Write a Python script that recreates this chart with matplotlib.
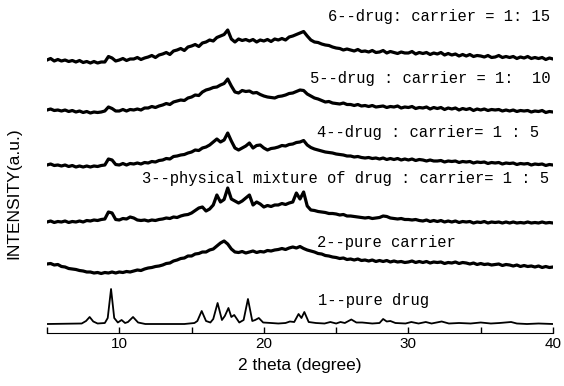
import numpy as np
from matplotlib import pyplot as plt
from matplotlib.ticker import MultipleLocator

# 2theta grid for the noisy patterns (5-40 deg, step 0.25)
two_theta = np.arange(0, 141) * 0.25 + 5

# intensity above each pattern's own baseline (a.u.)
carrier_1_15 = [3, 4.5, 2, 3.5, 2, 3, 1.5, 2.5, 1, 2.5, 0.5, 1.5, 0, 1.5, 0, 1,
                1, 6.5, 5, 2, 3, 4.5, 2.5, 4, 4, 5.5, 3.5, 5, 6, 7.5, 5.5, 8,
                9, 10.5, 8.5, 12, 13, 14.5, 12.5, 16, 17, 18.5, 16.5, 20, 21, 23, 22, 25.5,
                27, 28.5, 33, 24, 21, 24, 22.5, 23.5, 22, 23.5, 21, 23, 22, 23.5, 21.5, 24,
                23, 24.5, 23, 26, 27, 28.5, 30, 31.5, 27, 23, 21, 20.5, 19, 18, 17.5, 16,
                15, 14.5, 13, 14, 13, 12, 13.5, 11.5, 12, 11, 12.5, 10.5, 11, 12.5, 10, 11.5,
                10.5, 9.5, 11, 10, 10, 11.5, 9, 10.5, 9.5, 10.5, 8.5, 10, 9, 10.5, 8, 9.5,
                8, 9, 7, 8.5, 7, 8.5, 6.5, 7.5, 7, 6, 7.5, 5.5, 6, 7.5, 5.5, 6.5,
                5.5, 6.5, 4.5, 6, 5, 6.5, 4.5, 5.5, 4.5, 5.5, 3.5, 5, 4]

carrier_1_10 = [3, 4, 2.5, 3, 2, 3, 1.5, 2.5, 1, 2, 0.5, 1.5, 0, 1, 0.5, 1,
                2, 6, 4.5, 2, 2, 3.5, 2, 3.5, 3, 4, 3, 5, 5, 6.5, 5.5, 7,
                8, 9.5, 8.5, 11, 12, 13, 12.5, 15, 16, 18, 17.5, 21, 23, 24, 25.5, 26,
                28, 29.5, 34, 27, 21, 20, 22.5, 21.5, 22, 20, 20.5, 18.5, 17, 16, 15.5, 15,
                16.5, 17, 18, 19.5, 20, 21.5, 23, 22.5, 19, 17, 15, 14, 12.5, 11, 11.5, 10,
                9.5, 9, 10, 8.5, 8.5, 7.5, 8.5, 7, 7.5, 6.5, 7.5, 6, 6.5, 7, 5.5, 6.5,
                6, 7, 5, 6, 5.5, 6.5, 4.5, 5.5, 5, 6, 4, 5.5, 4.5, 5.5, 3.5, 5,
                4, 5, 3, 4.5, 3.5, 4.5, 2.5, 4, 3, 4, 2.5, 3.5, 3, 3.5, 2, 3,
                2, 3, 1.5, 2.5, 2, 2.5, 1, 2, 1.5, 2.5, 0.5, 1.5, 1]

carrier_1_5 = [2, 3, 1.5, 2, 1, 2, 0.5, 1.5, 0, 1, 0, 1, 0, 1, 0.5, 1.5,
               2, 8, 7, 2.5, 2, 3.5, 2, 3.5, 3, 4, 3, 4.5, 4, 5.5, 5, 6.5,
               7, 8.5, 8, 10.5, 11, 12, 12.5, 14, 15, 17, 16.5, 19, 20, 22, 25, 28,
               25, 27, 34, 26, 19, 17, 19, 21, 24, 19, 21.5, 22, 19, 17, 18.5, 19,
               20, 21.5, 21, 22.5, 23, 24.5, 25, 26.5, 22, 19.5, 18, 17, 16, 15, 14.5, 14,
               13, 12.5, 12, 11, 11, 10, 10.5, 9.5, 9, 9.5, 8.5, 9, 8, 9, 7.5, 8.5,
               7.5, 8.5, 7, 8, 7, 8, 6.5, 7.5, 7, 6, 7, 6, 6, 6.5, 5, 6,
               5.5, 6, 4.5, 5.5, 5, 5.5, 4, 5, 4.5, 5, 3.5, 4.5, 4, 4.5, 3, 4,
               3.5, 4, 2.5, 3.5, 3, 3.5, 2, 3, 2.5, 3, 1.5, 2.5, 2]

physical_mixture = [1, 2, 0.5, 1.5, 1, 2, 0.5, 1.5, 1, 2, 1, 2.5, 2, 3, 2.5, 3.5,
                    4, 11, 10, 3.5, 3, 4.5, 4, 6, 5, 3, 2.5, 3, 2, 3, 2.5, 3.5,
                    4, 5, 4.5, 6, 5.5, 7, 8, 8.5, 10, 12.5, 15, 16, 12, 14, 18, 28,
                    21, 23.5, 35, 24, 22, 20, 22, 25, 28, 18, 21, 19, 16, 17.5, 16.5, 18,
                    18, 19.5, 18.5, 20, 21, 30, 24, 31, 17, 13, 12.5, 11.5, 11, 10.5, 9.5, 9.5,
                    9, 8, 8.5, 7, 7, 6.5, 6, 5.5, 5, 5.5, 4.5, 5, 5.5, 7, 6.5, 5,
                    4.5, 4, 4.5, 3.5, 3.5, 3, 3.5, 2.5, 2, 3, 1.5, 2.5, 1.5, 2.5, 1, 2,
                    1, 2, 0.5, 1.5, 1, 1.5, 0, 1, 0.5, 1.5, 0, 1, 0.5, 1, 0, 1,
                    0, 1, 0, 0.5, 0, 1, 0, 0.5, 0, 1, 0, 0.5, 0]

pure_carrier = [9, 9.5, 8, 8.5, 6.5, 6, 4.5, 4, 3.5, 2.5, 2, 1, 1, 0, 0.5, -0.5,
                0.5, 0, 1, 0, 1, 0.5, 1.5, 1, 2, 3, 2.5, 4, 5, 5.5, 6.5, 7,
                8, 9.5, 10, 12, 13, 14.5, 15, 17, 17, 19, 19.5, 21, 21, 23, 24, 27,
                30, 32, 29, 24, 21, 20.5, 21.5, 20, 21, 22, 20.5, 21.5, 21, 22.5, 22, 23,
                23.5, 24.5, 23.5, 25, 26, 25, 26.5, 24.5, 23, 22, 21, 19.5, 19, 17.5, 17, 16,
                15.5, 14.5, 15, 13.5, 14, 13, 14, 12.5, 13, 12, 13, 11.5, 12.5, 11.5, 12.5, 11,
                12, 11, 11.5, 10.5, 11, 12, 10.5, 11.5, 10.5, 11.5, 10, 11, 10.5, 11, 9.5, 10.5,
                10, 11, 9.5, 10.5, 10, 9, 10, 8.5, 9.5, 8.5, 9, 8, 8.5, 9, 7.5, 8.5,
                8, 7, 8, 6.5, 7.5, 6.5, 7, 6, 7, 5.5, 6.5, 5.5, 6]

# pure drug: (2theta, intensity) read at baseline points and peak tops
pure_drug = [(5, 0), (7.4, 0.5), (7.7, 3), (7.95, 7), (8.2, 2.5), (8.5, 0.5), (9.0, 1),
             (9.2, 6), (9.43, 35), (9.65, 6), (9.9, 1.5), (10.16, 4), (10.4, 1), (10.6, 2),
             (10.95, 7), (11.3, 1.5), (11.8, 0), (13, 0), (14.5, 0), (15.2, 1), (15.4, 3),
             (15.7, 13), (16.0, 3), (16.3, 1.5), (16.5, 5), (16.8, 21), (17.1, 4), (17.3, 8),
             (17.55, 16), (17.75, 7), (17.95, 9), (18.3, 1.5), (18.6, 4), (18.9, 25),
             (19.2, 3), (19.4, 4), (19.65, 6), (19.95, 1.5), (20.5, 1), (21.0, 0.5),
             (21.5, 1), (21.8, 2.5), (22.1, 2), (22.4, 10), (22.6, 6), (22.8, 12), (23.1, 2),
             (23.6, 1), (24.2, 0.5), (24.6, 2), (25.0, 0.5), (25.3, 2), (25.6, 1),
             (26.05, 4.5), (26.4, 1.5), (26.8, 1.5), (27.5, 0.5), (28.0, 1), (28.25, 5),
             (28.5, 2.5), (28.75, 3), (29.1, 1), (29.8, 0.5), (30.2, 2), (30.7, 0.5),
             (31.2, 2), (31.6, 0.5), (32.3, 2.5), (32.8, 0.5), (33.5, 1), (34.3, 0.5),
             (35.0, 1.5), (35.7, 0.5), (36.3, 1), (37.1, 2), (37.5, 0.5), (38.2, 0),
             (39.0, 0.5), (40, 0)]

labels = ["1--pure drug", "2--pure carrier",
          "3--physical mixture of drug : carrier= 1 : 5",
          "4--drug : carrier= 1 : 5", "5--drug : carrier = 1:  10",
          "6--drug: carrier = 1: 15"]

# 绘制数据
fig = plt.figure(dpi=100, figsize=(5.64, 3.86))
ax = fig.add_axes([47 / 564, 53 / 386, 506 / 564, 333 / 386])

drug_x = [p[0] for p in pure_drug]
drug_y = [p[1] for p in pure_drug]
ax.plot(drug_x, np.array(drug_y) + 9, c='black', lw=1.3)

stack = [(pure_carrier, 60), (physical_mixture, 110), (carrier_1_5, 166),
         (carrier_1_10, 220), (carrier_1_15, 270)]
for values, offset in stack:
    ax.plot(two_theta, np.array(values) + offset, c='black', lw=2.3)

# 曲线标注
label_pos = [(23.74, 33), (23.67, 91), (11.57, 155), (23.67, 200), (23.19, 254), (24.43, 316)]
for text, (x, y) in zip(labels, label_pos):
    ax.text(x, y, text, fontsize=11.2, family='Liberation Mono', va='center', ha='left')

# 标准化图像
ax.set_xlim(5, 40)
ax.set_ylim(0, 333)
for side in ['left', 'top', 'right']:
    ax.spines[side].set_visible(False)
ax.set_yticks([])
ax.xaxis.set_major_locator(MultipleLocator(10))
ax.xaxis.set_minor_locator(MultipleLocator(5))
ax.tick_params(axis='x', which='both', direction='in', length=4, width=1, pad=3)
ax.tick_params(axis='x', which='major', labelsize=11)
for lab in ax.get_xticklabels():
    lab.set_family('Liberation Sans')
ax.set_xlabel('2 theta (degree)', fontsize=12.5, family='Liberation Sans', labelpad=5)
fig.text(14 / 564, 0.5, 'INTENSITY(a.u.)', rotation=90, fontsize=12.5,
         family='Liberation Sans', va='center', ha='center')

plt.savefig('out.png')
